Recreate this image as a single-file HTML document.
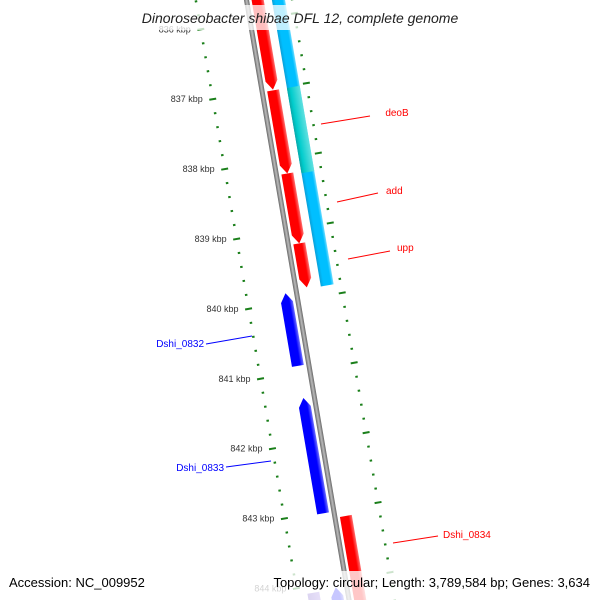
<!DOCTYPE html>
<html><head><meta charset="utf-8"><style>
html,body{margin:0;background:#fff;overflow:hidden;width:600px;height:600px}
svg{display:block;overflow:hidden}
text{font-family:"Liberation Sans","DejaVu Sans",sans-serif}
</style></head><body>
<svg id="chart" width="600" height="600" viewBox="0 0 600 600">
<defs>
<clipPath id="frame"><rect x="0" y="0" width="600" height="600"/></clipPath>
<linearGradient id="gGray" x1="0" x2="1"><stop offset="0" stop-color="#666"/><stop offset="0.5" stop-color="#bbb"/><stop offset="1" stop-color="#666"/></linearGradient>
<linearGradient id="gRed" x1="0" x2="1"><stop offset="0" stop-color="#f00"/><stop offset="0.7" stop-color="#f00"/><stop offset="1" stop-color="#ff7070"/></linearGradient>
<linearGradient id="gBlue" x1="0" x2="1"><stop offset="0" stop-color="#00f"/><stop offset="0.7" stop-color="#00f"/><stop offset="1" stop-color="#7070ff"/></linearGradient>
<linearGradient id="gCyan" x1="0" x2="1"><stop offset="0" stop-color="#0aa0d8"/><stop offset="0.25" stop-color="#00bfff"/><stop offset="0.8" stop-color="#00bfff"/><stop offset="1" stop-color="#70dcff"/></linearGradient>
<linearGradient id="gTeal" x1="0" x2="1"><stop offset="0" stop-color="#08a8a8"/><stop offset="0.25" stop-color="#00cccc"/><stop offset="1" stop-color="#60e0e0"/></linearGradient>
<linearGradient id="gPurple" x1="0" x2="1"><stop offset="0" stop-color="#6040c0"/><stop offset="1" stop-color="#9070e0"/></linearGradient>
</defs>
<g clip-path="url(#frame)">
<g id="track" transform="translate(246.5,0) rotate(-9.7)"></g>
</g>
<g id="labels"></g>
<line x1="321" y1="124" x2="370" y2="116" stroke="#f00"/>
<text x="397" y="116" font-size="10" fill="#f00" text-anchor="middle">deoB</text>
<line x1="337" y1="202" x2="378" y2="193" stroke="#f00"/>
<text x="386" y="194" font-size="10" fill="#f00">add</text>
<line x1="348" y1="259" x2="390" y2="251" stroke="#f00"/>
<text x="397" y="251" font-size="10" fill="#f00">upp</text>
<line x1="393" y1="543" x2="438" y2="536" stroke="#f00"/>
<text x="443" y="538" font-size="10" fill="#f00">Dshi_0834</text>
<line x1="206" y1="344" x2="252" y2="336" stroke="#00f"/>
<text x="204" y="347" font-size="10" fill="#00f" text-anchor="end">Dshi_0832</text>
<line x1="226" y1="467" x2="271" y2="461" stroke="#00f"/>
<text x="224" y="471" font-size="10" fill="#00f" text-anchor="end">Dshi_0833</text>
<rect x="120" y="5" width="360" height="25" fill="#fff" opacity="0.75"/>
<text x="300" y="23" font-size="14" font-style="italic" fill="#222" text-anchor="middle">Dinoroseobacter shibae DFL 12, complete genome</text>
<rect x="0" y="571" width="600" height="29" fill="#fff" opacity="0.78"/>
<text x="9" y="587" font-size="13" fill="#000">Accession: NC_009952</text>
<text x="590" y="587" font-size="13" fill="#000" text-anchor="end">Topology: circular; Length: 3,789,584 bp; Genes: 3,634</text>
</svg>
<script>
// genome data (kbp)
const geneNames   = ["gene-a","deoB","add","upp","Dshi_0832","Dshi_0833","Dshi_0834","gene-b"];
const geneStarts  = [835.5, 837.02, 838.21, 839.21, 839.87, 841.37, 843.11, 844.08];
const geneEnds    = [837.01, 838.21, 839.21, 839.84, 840.91, 843.02, 844.9, 844.9];
const geneStrands = [1, 1, 1, 1, -1, -1, 1, -1];
const bandStarts  = [835.5, 837.02];
const bandEnds    = [839.86, 838.24];
const bandKinds   = ["cyan", "teal"];
const tickKbp     = [836, 837, 838, 839, 840, 841, 842, 843, 844];
const otherStarts = [844.1];
const otherEnds   = [844.9];

const NS="http://www.w3.org/2000/svg";
const ANG=9.7*Math.PI/180, SIN=Math.sin(ANG), COS=Math.cos(ANG);
function vScale(k){return 21.2+70.9*(k-836);}
function toScreen(u,v){return [246.5+u*COS+v*SIN, -u*SIN+v*COS];}
const tr=document.getElementById('track');
function el(tag,attrs,parent){const e=document.createElementNS(NS,tag);for(const a in attrs)e.setAttribute(a,attrs[a]);(parent||tr).appendChild(e);return e;}

const bb=el('rect',{x:-2.5,y:-20,width:5,height:640,fill:'url(#gGray)'});



for(let k=835.6;k<=844.61;k+=0.2){
  const kk=Math.round(k*10)/10;
  const major=Math.abs(kk-Math.round(kk))<0.01;
  const v=vScale(kk);
  [-50,45].forEach(u=>{
    const len=major?7:2.5;
    const t=el('line',{x1:u-len/2,x2:u+len/2,y1:v,y2:v,stroke:'#1a7f1a','stroke-width':2});
    
    
  });
}

bandStarts.forEach((s,i)=>{
  const r=el('rect',{x:25,y:vScale(s),width:13,height:vScale(bandEnds[i])-vScale(s),fill:bandKinds[i]==='cyan'?'url(#gCyan)':'url(#gTeal)'});
  
  
});
otherStarts.forEach((s,i)=>{
  const r=el('rect',{x:-40,y:vScale(s),width:12,height:vScale(otherEnds[i])-vScale(s),fill:'url(#gPurple)'});
  
  
});

geneStarts.forEach((s,i)=>{
  const a=vScale(s), b=vScale(geneEnds[i]), h=9;
  let pts,u0,u1,fill;
  if(geneStrands[i]>0){u0=5;u1=17;fill='url(#gRed)';
    pts=[[u0,a],[u1,a],[u1,b-h],[(u0+u1)/2,b],[u0,b-h]];}
  else{u0=-17;u1=-5;fill='url(#gBlue)';
    pts=[[(u0+u1)/2,a],[u1,a+h],[u1,b],[u0,b],[u0,a+h]];}
  const p=el('polygon',{points:pts.map(q=>q.join(',')).join(' '),fill:fill});
  
  
});

const lg=document.getElementById('labels');
tickKbp.forEach(k=>{
  const [x,y]=toScreen(-50,vScale(k));
  const t=el('text',{x:x-10,y:y+3,'font-size':9,fill:'#333','text-anchor':'end'},lg);
  t.textContent=k+' kbp';
  
  
});
</script>
</body></html>
